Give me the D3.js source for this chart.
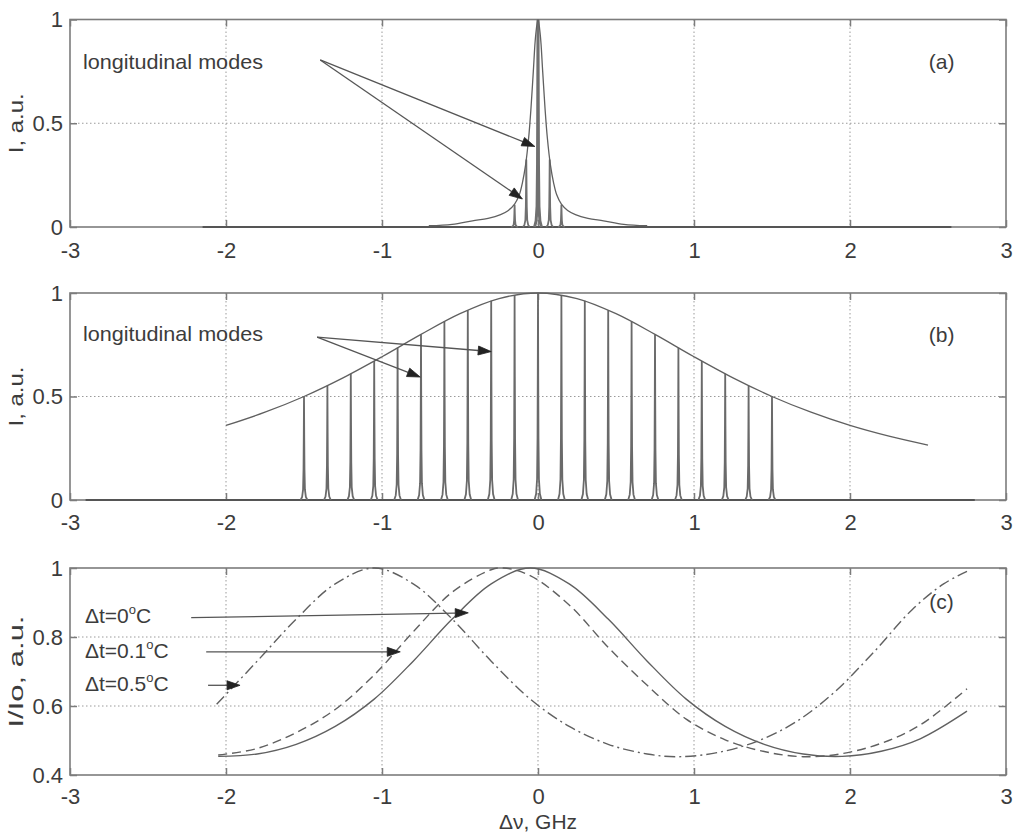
<!DOCTYPE html>
<html><head><meta charset="utf-8">
<script src="https://cdn.jsdelivr.net/npm/d3@7"></script>
<style>
body{margin:0;background:#fff;}
text{font-family:"Liberation Sans",Arial,Helvetica,sans-serif;fill:#3c3c3c;}
</style></head><body>
<svg id="chart" width="1018" height="833"></svg>
<script>
// ---------- ticks ----------
const xTicks=[-3,-2,-1,0,1,2,3];
const xTickLabels=["-3","-2","-1","0","1","2","3"];
const xGrid=[-2,-1,0,1,2];
const yTicksAB=[0,0.5,1];
const yTickLabelsAB=["0","0.5","1"];
const yGridAB=[0.5];
const yTicksC=[0.4,0.6,0.8,1];
const yTickLabelsC=["0.4","0.6","0.8","1"];
const yGridC=[0.6,0.8];

// ---------- panel (a) ----------
const envA_x=[-0.70,-0.55,-0.42,-0.32,-0.24,-0.19,-0.15,-0.12,-0.10,-0.08,-0.06,-0.045,-0.03,-0.015,0,0.015,0.03,0.045,0.06,0.08,0.10,0.12,0.15,0.19,0.24,0.32,0.42,0.55,0.70];
const envA_y=[0.006,0.013,0.030,0.042,0.060,0.080,0.110,0.155,0.213,0.297,0.429,0.572,0.750,0.923,1.0,0.923,0.750,0.572,0.429,0.297,0.213,0.155,0.110,0.080,0.060,0.042,0.030,0.013,0.006];
const baseA_x=[-2.15,2.65];
const modesA_x=[-0.15,-0.075,0,0.075,0.15];
const modesA_h=[0.107,0.325,1.0,0.325,0.107];

// ---------- panel (b) ----------
const envB_x=[-2.0,-1.75,-1.5,-1.25,-1.0,-0.75,-0.5,-0.25,0,0.25,0.5,0.75,1.0,1.25,1.5,1.75,2.0,2.25,2.5];
const envB_y=[0.36,0.424,0.50,0.59,0.692,0.80,0.90,0.973,1.0,0.973,0.90,0.80,0.692,0.59,0.50,0.424,0.36,0.308,0.265];
const baseB_x=[-2.9,2.8];
const modesB_x=[-1.5,-1.35,-1.2,-1.05,-0.9,-0.75,-0.6,-0.45,-0.3,-0.15,0,0.15,0.3,0.45,0.6,0.75,0.9,1.05,1.2,1.35,1.5];
const modesB_h=[0.50,0.552,0.61,0.671,0.735,0.80,0.862,0.917,0.962,0.99,1.0,0.99,0.962,0.917,0.862,0.80,0.735,0.671,0.61,0.552,0.50];

// line shape of one longitudinal mode (offset in GHz, fraction of height)
const modeProfile_dx=[-0.022,-0.012,-0.006,-0.003,-0.0015,0,0.0015,0.003,0.006,0.012,0.022];
const modeProfile_r=[0,0.03,0.10,0.30,0.60,1,0.60,0.30,0.10,0.03,0];

// ---------- panel (c) ----------
const c0_x=[-2.05,-1.8,-1.55,-1.3,-1.05,-0.8,-0.55,-0.3,-0.05,0.2,0.45,0.7,0.95,1.2,1.45,1.7,1.95,2.2,2.45,2.75];
const c0_y=[0.454,0.461,0.489,0.541,0.620,0.730,0.852,0.954,1.0,0.954,0.852,0.730,0.620,0.541,0.489,0.461,0.454,0.469,0.505,0.585];
const c1_x=[-2.05,-1.8,-1.55,-1.3,-1.05,-0.8,-0.55,-0.3,-0.22,-0.05,0.2,0.45,0.7,0.95,1.2,1.45,1.7,1.95,2.2,2.45,2.75];
const c1_y=[0.458,0.477,0.523,0.590,0.690,0.815,0.930,0.995,1.0,0.978,0.893,0.770,0.660,0.562,0.502,0.468,0.453,0.462,0.492,0.545,0.650];
const c5_x=[-2.06,-1.8,-1.55,-1.3,-1.05,-0.8,-0.55,-0.3,-0.05,0.2,0.45,0.7,0.9,1.15,1.4,1.65,1.9,2.15,2.4,2.6,2.75];
const c5_y=[0.605,0.730,0.852,0.954,1.0,0.954,0.852,0.730,0.620,0.541,0.489,0.461,0.453,0.465,0.497,0.553,0.640,0.755,0.880,0.954,0.990];

// ---------- annotations (data coordinates) ----------
const arrowsA=[{x0:-1.396,y0:0.805,x1:-0.02,y1:0.388},{x0:-1.396,y0:0.805,x1:-0.10,y1:0.135}];
const arrowsB=[{x0:-1.416,y0:0.787,x1:-0.30,y1:0.717},{x0:-1.416,y0:0.787,x1:-0.755,y1:0.594}];
const arrowsC=[{x0:-2.223,y0:0.856,x1:-0.447,y1:0.870},{x0:-2.127,y0:0.757,x1:-0.883,y1:0.757},{x0:-2.115,y0:0.66,x1:-1.91,y1:0.66}];
const labelsC=[{t:"Δt=0",y:0.858},{t:"Δt=0.1",y:0.757},{t:"Δt=0.5",y:0.66}];

// ---------- layout ----------
const svg=d3.select("#chart");
const L=70,R=1006;
const x=d3.scaleLinear().domain([-3,3]).range([L,R]);
const panels=[
  {top:19.5,bottom:227,dom:[0,1],ticks:yTicksAB,labels:yTickLabelsAB,grid:yGridAB,ylab:"I, a.u.",ylen:60,tag:"(a)",tagY:0.79,pad:15},
  {top:293,bottom:500,dom:[0,1],ticks:yTicksAB,labels:yTickLabelsAB,grid:yGridAB,ylab:"I, a.u.",ylen:60,tag:"(b)",tagY:0.789,pad:14},
  {top:568,bottom:775,dom:[0.4,1],ticks:yTicksC,labels:yTickLabelsC,grid:yGridC,ylab:"I/Io, a.u.",ylen:112,tag:"(c)",tagY:0.898,pad:13}
];
const axisCol="#7c7c7c", lineCol="#606060";
const FS=21;

panels.forEach(p=>{
  p.y=d3.scaleLinear().domain(p.dom).range([p.bottom,p.top]);
  const g=svg.append("g");
  g.selectAll(".vg").data(xGrid).enter().append("line")
    .attr("x1",d=>x(d)).attr("x2",d=>x(d)).attr("y1",p.top).attr("y2",p.bottom)
    .attr("stroke","#9a9a9a").attr("stroke-width",1).attr("stroke-dasharray","1.5,2.5");
  g.selectAll(".hg").data(p.grid).enter().append("line")
    .attr("x1",L).attr("x2",R).attr("y1",d=>p.y(d)).attr("y2",d=>p.y(d))
    .attr("stroke","#9a9a9a").attr("stroke-width",1).attr("stroke-dasharray","1.5,2.5");
  const ab=g.append("g").attr("transform",`translate(0,${p.bottom})`)
    .call(d3.axisBottom(x).tickValues(xTicks).tickFormat((d,i)=>xTickLabels[i]).tickSizeInner(-7).tickSizeOuter(0).tickPadding(p.pad));
  const at=g.append("g").attr("transform",`translate(0,${p.top})`)
    .call(d3.axisTop(x).tickValues(xTicks).tickFormat("").tickSizeInner(-7).tickSizeOuter(0));
  const al=g.append("g").attr("transform",`translate(${L},0)`)
    .call(d3.axisLeft(p.y).tickValues(p.ticks).tickFormat((d,i)=>p.labels[i]).tickSizeInner(-7).tickSizeOuter(0).tickPadding(7));
  const ar=g.append("g").attr("transform",`translate(${R},0)`)
    .call(d3.axisRight(p.y).tickValues(p.ticks).tickFormat("").tickSizeInner(-7).tickSizeOuter(0));
  [ab,at,al,ar].forEach(a=>{
    a.select(".domain").remove();
    a.selectAll(".tick line").attr("stroke",axisCol).attr("stroke-width",1.5);
    a.selectAll(".tick text").attr("font-size",FS+1).attr("fill","#3c3c3c")
      .style("font-family",'"Liberation Sans",Arial,sans-serif');
  });
  g.append("rect").attr("x",L).attr("y",p.top).attr("width",R-L).attr("height",p.bottom-p.top)
    .attr("fill","none").attr("stroke",axisCol).attr("stroke-width",1.6);
  const cy=(p.top+p.bottom)/2;
  g.append("text").attr("transform",`translate(17,${cy}) rotate(-90)`)
    .attr("text-anchor","middle").attr("dominant-baseline","middle")
    .attr("font-size",FS).attr("textLength",p.ylen).attr("lengthAdjust","spacingAndGlyphs").text(p.ylab);
  g.append("text").attr("x",x(2.587)).attr("y",p.y(p.tagY)).attr("text-anchor","middle")
    .attr("dominant-baseline","middle").attr("font-size",FS).text(p.tag);
});

const [pA,pB,pC]=panels;

function modePath(xc,h,ys){
  const pts=modeProfile_dx.map((dx,i)=>[x(xc+dx),ys(h*modeProfile_r[i])]);
  return d3.line()(pts);
}
function arrow(g,a,ys){
  const X0=x(a.x0),Y0=ys(a.y0),X1=x(a.x1),Y1=ys(a.y1);
  const dx=X1-X0,dy=Y1-Y0,len=Math.hypot(dx,dy),ux=dx/len,uy=dy/len;
  const hl=13,hw=4.5;
  const bx=X1-ux*hl,by=Y1-uy*hl;
  g.append("line").attr("x1",X0).attr("y1",Y0).attr("x2",bx).attr("y2",by)
    .attr("stroke","#555").attr("stroke-width",1.3);
  g.append("path").attr("d",d3.line()([[X1,Y1],[bx-uy*hw,by+ux*hw],[bx+uy*hw,by-ux*hw]])+"Z")
    .attr("fill","#222").attr("stroke","#222").attr("stroke-width",0.8);
}

// ---------- draw (a) ----------
const gA=svg.append("g");
gA.append("line").attr("x1",x(baseA_x[0])).attr("x2",x(baseA_x[1])).attr("y1",pA.y(0)).attr("y2",pA.y(0))
  .attr("stroke","#555").attr("stroke-width",2.2);
modesA_x.forEach((m,i)=>{
  gA.append("path").attr("d",modePath(m,modesA_h[i],pA.y)).attr("fill","none")
    .attr("stroke","#707070").attr("stroke-width",m===0?3:1.8);
});
gA.append("path").attr("d",d3.line().curve(d3.curveCatmullRom)(envA_x.map((v,i)=>[x(v),pA.y(envA_y[i])])))
  .attr("fill","none").attr("stroke",lineCol).attr("stroke-width",1.3);
gA.append("text").attr("x",x(-2.917)).attr("y",pA.y(0.79)).attr("dominant-baseline","middle")
  .attr("font-size",FS).attr("textLength",180).attr("lengthAdjust","spacingAndGlyphs").text("longitudinal modes");
arrowsA.forEach(a=>arrow(gA,a,pA.y));

// ---------- draw (b) ----------
const gB=svg.append("g");
gB.append("line").attr("x1",x(baseB_x[0])).attr("x2",x(baseB_x[1])).attr("y1",pB.y(0)).attr("y2",pB.y(0))
  .attr("stroke","#555").attr("stroke-width",2.2);
modesB_x.forEach((m,i)=>{
  gB.append("path").attr("d",modePath(m,modesB_h[i],pB.y)).attr("fill","none")
    .attr("stroke","#6a6a6a").attr("stroke-width",1.8);
});
gB.append("path").attr("d",d3.line().curve(d3.curveCatmullRom)(envB_x.map((v,i)=>[x(v),pB.y(envB_y[i])])))
  .attr("fill","none").attr("stroke",lineCol).attr("stroke-width",1.3);
gB.append("text").attr("x",x(-2.917)).attr("y",pB.y(0.797)).attr("dominant-baseline","middle")
  .attr("font-size",FS).attr("textLength",180).attr("lengthAdjust","spacingAndGlyphs").text("longitudinal modes");
arrowsB.forEach(a=>arrow(gB,a,pB.y));

// ---------- draw (c) ----------
const gC=svg.append("g");
const lc=d3.line().curve(d3.curveCatmullRom);
gC.append("path").attr("d",lc(c0_x.map((v,i)=>[x(v),pC.y(c0_y[i])])))
  .attr("fill","none").attr("stroke",lineCol).attr("stroke-width",1.4);
gC.append("path").attr("d",lc(c1_x.map((v,i)=>[x(v),pC.y(c1_y[i])])))
  .attr("fill","none").attr("stroke",lineCol).attr("stroke-width",1.4).attr("stroke-dasharray","9,5");
gC.append("path").attr("d",lc(c5_x.map((v,i)=>[x(v),pC.y(c5_y[i])])))
  .attr("fill","none").attr("stroke",lineCol).attr("stroke-width",1.4).attr("stroke-dasharray","11,4,2,4");
labelsC.forEach(l=>{
  const t=gC.append("text").attr("x",x(-2.904)).attr("y",pC.y(l.y)).attr("dominant-baseline","middle").attr("font-size",FS);
  t.append("tspan").text(l.t);
  t.append("tspan").attr("font-size",13).attr("dy",-6).text("o");
  t.append("tspan").attr("dy",6).text("C");
});
arrowsC.forEach(a=>arrow(gC,a,pC.y));

svg.append("text").attr("x",x(0)).attr("y",823).attr("text-anchor","middle").attr("dominant-baseline","middle")
  .attr("font-size",FS).text("Δν, GHz");
</script>
</body></html>
